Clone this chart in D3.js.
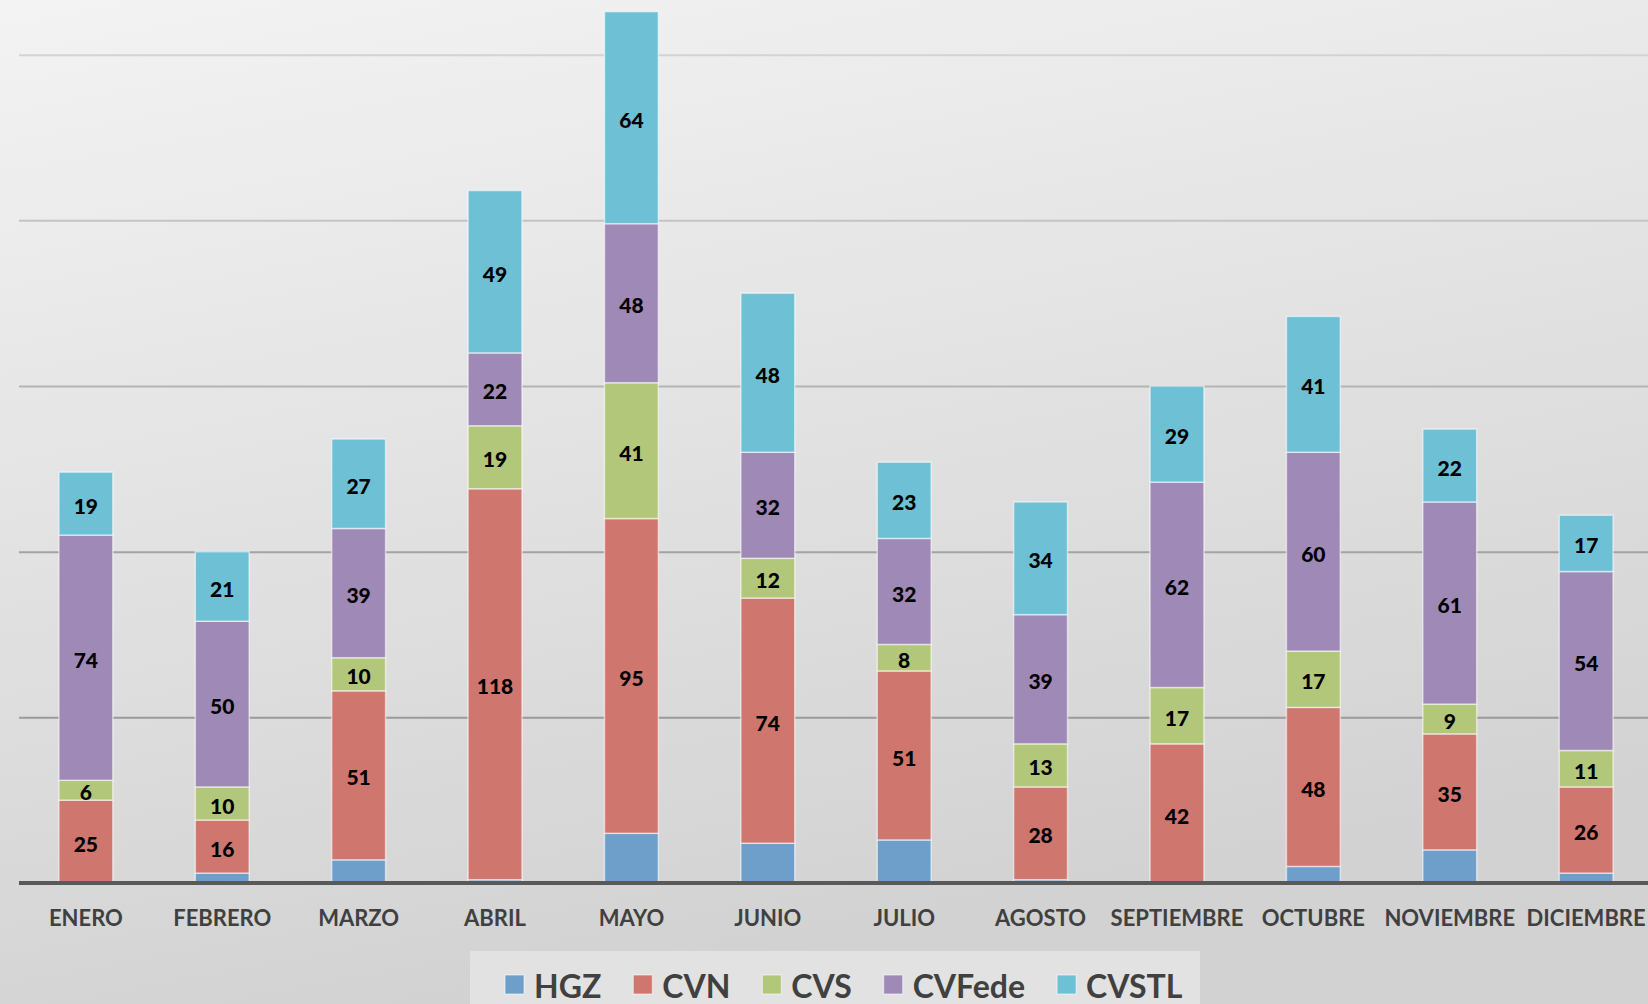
<!DOCTYPE html>
<html>
<head>
<meta charset="utf-8">
<script src="https://cdn.jsdelivr.net/npm/d3@7"></script>
<style>
    html, body { margin: 0; padding: 0; overflow: hidden; }
    #chart-area { width: 1648px; height: 1004px; }
    text { font-family: Lato, "Open Sans", sans-serif; }
</style>
</head>
<body>
<div id="chart-area"></div>
<script>

// Data
const months = ["ENERO", "FEBRERO", "MARZO", "ABRIL", "MAYO", "JUNIO", "JULIO",
    "AGOSTO", "SEPTIEMBRE", "OCTUBRE", "NOVIEMBRE", "DICIEMBRE"];
const seriesNames = ["HGZ", "CVN", "CVS", "CVFede", "CVSTL"];
const hgz    = [0, 3, 7, 1, 15, 12, 13, 1, 0, 5, 10, 3];
const cvn    = [25, 16, 51, 118, 95, 74, 51, 28, 42, 48, 35, 26];
const cvs    = [6, 10, 10, 19, 41, 12, 8, 13, 17, 17, 9, 11];
const cvfede = [74, 50, 39, 22, 48, 32, 32, 39, 62, 60, 61, 54];
const cvstl  = [19, 21, 27, 49, 64, 48, 23, 34, 29, 41, 22, 17];
const gridTicks = [50, 100, 150, 200, 250];

const seriesColors = ["#6e9fcb", "#cf766f", "#b3c77b", "#9f89b7", "#6ec0d5"];


class StackedBarChart {

    constructor(parentElement) {
        this.parentElement = parentElement;
        this.initVis();
    }

    initVis() {
        let vis = this;

        vis.width = 1648;
        vis.height = 1004;
        vis.baseline = 883;

        vis.svg = d3.select("#" + vis.parentElement).append("svg")
            .attr("width", vis.width)
            .attr("height", vis.height);

        // background gradient
        let defs = vis.svg.append("defs");
        let bg = defs.append("linearGradient")
            .attr("id", "bg")
            .attr("x1", "0").attr("y1", "0")
            .attr("x2", "0.3").attr("y2", "1");
        bg.append("stop").attr("offset", "0%").attr("stop-color", "#f3f3f3");
        bg.append("stop").attr("offset", "100%").attr("stop-color", "#d2d2d2");

        vis.svg.append("rect")
            .attr("width", vis.width)
            .attr("height", vis.height)
            .attr("fill", "url(#bg)");

        // Scales
        vis.x = d3.scaleBand()
            .domain(months)
            .range([18, 1654])
            .paddingInner(0.605)
            .paddingOuter(0.3);

        vis.y = d3.scaleLinear()
            .domain([0, 250])
            .range([vis.baseline, 54.7]);

        vis.color = d3.scaleOrdinal()
            .domain(seriesNames)
            .range(seriesColors);

        // Gridlines
        vis.yAxis = d3.axisLeft(vis.y)
            .tickValues(gridTicks)
            .tickSize(-(vis.width - 19))
            .tickFormat("");

        let grid = vis.svg.append("g")
            .attr("class", "grid")
            .attr("transform", "translate(19,0)")
            .call(vis.yAxis);
        grid.select(".domain").remove();
        grid.selectAll(".tick line")
            .attr("stroke", (d, i) => ["#9a9a9a", "#a3a3a3", "#b4b4b4", "#c4c4c4", "#d3d3d3"][i])
            .attr("stroke-width", 2);

        vis.barGroup = vis.svg.append("g").attr("class", "bars");
        vis.labelGroup = vis.svg.append("g").attr("class", "labels");

        // X axis (baseline + month names)
        vis.xAxis = d3.axisBottom(vis.x)
            .tickSize(0)
            .tickPadding(27);

        vis.xAxisGroup = vis.svg.append("g")
            .attr("class", "x-axis")
            .attr("transform", "translate(0," + vis.baseline + ")");

        // Legend
        vis.legend = vis.svg.append("g").attr("class", "legend");

        vis.wrangleData();
    }

    wrangleData() {
        let vis = this;

        let rows = months.map((m, i) => ({
            month: m,
            HGZ: hgz[i],
            CVN: cvn[i],
            CVS: cvs[i],
            CVFede: cvfede[i],
            CVSTL: cvstl[i]
        }));

        vis.stacked = d3.stack().keys(seriesNames)(rows);

        vis.updateVis();
    }

    updateVis() {
        let vis = this;

        let layers = vis.barGroup.selectAll("g")
            .data(vis.stacked)
            .enter().append("g")
            .attr("fill", d => vis.color(d.key));

        layers.selectAll("rect")
            .data(d => d)
            .enter().append("rect")
            .attr("x", d => vis.x(d.data.month))
            .attr("width", vis.x.bandwidth())
            .attr("y", d => vis.y(d[1]))
            .attr("height", d => Math.max(0, vis.y(d[0]) - vis.y(d[1])))
            .attr("stroke", "rgba(255,255,255,0.55)")
            .attr("stroke-width", 1.5);

        // value labels (HGZ has none)
        vis.stacked.filter(s => s.key !== "HGZ").forEach(function (s) {
            vis.labelGroup.selectAll(null)
                .data(s)
                .enter().append("text")
                .attr("x", d => vis.x(d.data.month) + vis.x.bandwidth() / 2)
                .attr("y", d => (vis.y(d[0]) + vis.y(d[1])) / 2)
                .attr("dy", "0.48em")
                .attr("text-anchor", "middle")
                .attr("font-size", 21)
                .attr("font-weight", 900)
                .attr("fill", "#000")
                .text(d => d[1] - d[0]);
        });

        vis.xAxisGroup.call(vis.xAxis);
        vis.xAxisGroup.select(".domain")
            .attr("d", "M19,0H" + vis.width)
            .attr("stroke", "#595959")
            .attr("stroke-width", 4);
        vis.xAxisGroup.selectAll(".tick text")
            .attr("font-size", 22)
            .attr("font-weight", "bold")
            .attr("fill", "#404040")
            .attr("font-family", "Lato, sans-serif");

        // legend box and entries
        vis.legend.append("rect")
            .attr("x", 470)
            .attr("y", 951)
            .attr("width", 730)
            .attr("height", 60)
            .attr("fill", "#e2e2e2");

        let lx = 505;
        seriesNames.forEach(function (name) {
            vis.legend.append("rect")
                .attr("x", lx)
                .attr("y", 975)
                .attr("width", 19)
                .attr("height", 19)
                .attr("fill", vis.color(name))
                .attr("stroke", "rgba(255,255,255,0.6)")
                .attr("stroke-width", 1);
            let t = vis.legend.append("text")
                .attr("x", lx + 29)
                .attr("y", 998)
                .attr("font-size", 32)
                .attr("font-weight", "bold")
                .attr("fill", "#404040")
                .text(name);
            lx += 29 + t.node().getComputedTextLength() + 32;
        });
    }
}

new StackedBarChart("chart-area");

</script>
</body>
</html>
